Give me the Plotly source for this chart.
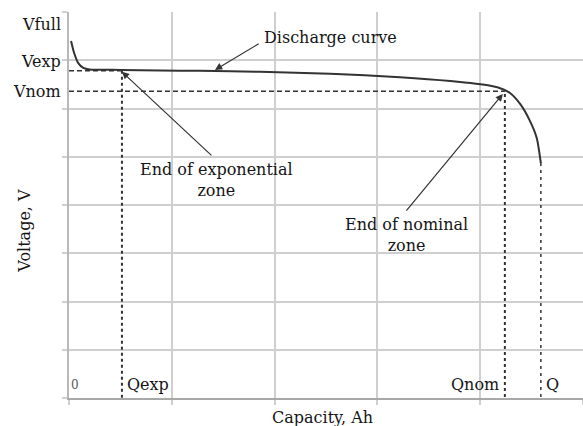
import plotly.graph_objects as go

# Discharge curve (capacity in grid units, voltage in grid units)
capacity = [0.02, 0.05, 0.09, 0.14, 0.20, 0.50, 0.89, 1.27, 1.86, 2.54, 3.22, 3.71, 4.10, 4.22, 4.29, 4.39, 4.48, 4.55, 4.59]
voltage = [7.40, 7.15, 6.94, 6.84, 6.81, 6.80, 6.79, 6.78, 6.76, 6.72, 6.65, 6.57, 6.47, 6.40, 6.32, 6.09, 5.76, 5.39, 4.87]

# Key points
q_exp = 0.515
q_nom = 4.24
q_end = 4.59
v_full = 7.75
v_exp = 6.78
v_nom = 6.36
v_nom_knee = 6.30
v_end = 4.87

v_labels = ["Vfull", "Vexp", "Vnom"]
v_label_pos = [v_full, 6.98, v_nom]
q_labels = ["0", "Qexp", "Qnom", "Q"]

FONT = "DejaVu Serif"
DARK = "#333333"
TXT = "#151515"
GRID = "#cfcfcf"

fig = go.Figure()

# Reference lines
fig.add_trace(go.Scatter(x=[0, q_exp], y=[v_exp, v_exp], mode="lines",
                         line=dict(color=DARK, width=1.5, dash="5px,3px"), hoverinfo="skip"))
fig.add_trace(go.Scatter(x=[0, q_nom], y=[v_nom, v_nom], mode="lines",
                         line=dict(color=DARK, width=1.5, dash="5px,3px"), hoverinfo="skip"))
fig.add_trace(go.Scatter(x=[q_exp, q_exp], y=[v_exp, 0], mode="lines",
                         line=dict(color=DARK, width=2, dash="3px,3px"), hoverinfo="skip"))
fig.add_trace(go.Scatter(x=[q_nom, q_nom], y=[v_nom_knee, 0], mode="lines",
                         line=dict(color=DARK, width=2, dash="3px,3px"), hoverinfo="skip"))
fig.add_trace(go.Scatter(x=[q_end, q_end], y=[v_end, 0], mode="lines",
                         line=dict(color=DARK, width=1.5, dash="3px,4px"), hoverinfo="skip"))

# Discharge curve
fig.add_trace(go.Scatter(x=capacity, y=voltage, mode="lines",
                         line=dict(color=DARK, width=2, shape="spline", smoothing=0.6)))

annotations = []
# Voltage labels on the left
for lab, yv in zip(v_labels, v_label_pos):
    annotations.append(dict(x=0, xref="paper", y=yv, yref="y", text=lab, showarrow=False,
                            xanchor="right", yanchor="middle", xshift=-6,
                            font=dict(family=FONT, size=16, color=TXT)))
# Capacity labels at the bottom
annotations.append(dict(x=0.06, y=0.27, xref="x", yref="y", text=q_labels[0], showarrow=False,
                        font=dict(family=FONT, size=12, color="#555")))
annotations.append(dict(x=q_exp, y=0.27, xref="x", yref="y", text=q_labels[1], showarrow=False,
                        xanchor="left", xshift=3, font=dict(family=FONT, size=16, color=TXT)))
annotations.append(dict(x=q_nom, y=0.27, xref="x", yref="y", text=q_labels[2], showarrow=False,
                        xanchor="right", xshift=-4, font=dict(family=FONT, size=16, color=TXT)))
annotations.append(dict(x=q_end, y=0.27, xref="x", yref="y", text=q_labels[3], showarrow=False,
                        xanchor="left", xshift=3, font=dict(family=FONT, size=16, color=TXT)))

# Callouts with arrows
arrow_common = dict(showarrow=True, arrowhead=2, arrowsize=1.2, arrowwidth=1.2, arrowcolor=DARK,
                    axref="x", ayref="y", xref="x", yref="y")
annotations.append(dict(x=1.42, y=6.80, ax=1.86, ay=7.36, text="", **arrow_common))
annotations.append(dict(x=q_exp, y=6.76, ax=1.40, ay=5.00, text="", **arrow_common))
annotations.append(dict(x=4.22, y=6.30, ax=3.27, ay=3.85, text="", **arrow_common))

annotations.append(dict(x=2.54, y=7.48, xref="x", yref="y", text="Discharge curve", showarrow=False,
                        font=dict(family=FONT, size=16, color=TXT)))
annotations.append(dict(x=1.43, y=4.52, xref="x", yref="y", text="End of exponential<br>zone",
                        showarrow=False, font=dict(family=FONT, size=16, color=TXT)))
annotations.append(dict(x=3.28, y=3.38, xref="x", yref="y", text="End of nominal<br>zone",
                        showarrow=False, font=dict(family=FONT, size=16, color=TXT)))

# Axis titles
annotations.append(dict(x=0.494, y=-0.05, xref="paper", yref="paper", text="Capacity, Ah",
                        showarrow=False, yanchor="middle",
                        font=dict(family=FONT, size=16, color=TXT)))
annotations.append(dict(x=-0.086, y=0.433, xref="paper", yref="paper", text="Voltage, V",
                        showarrow=False, textangle=-90, xanchor="center", yanchor="middle",
                        font=dict(family=FONT, size=16, color=TXT)))

fig.update_layout(
    width=583, height=426,
    margin=dict(l=69, r=0, t=12, b=28),
    paper_bgcolor="white", plot_bgcolor="white",
    showlegend=False,
    annotations=annotations,
    xaxis=dict(range=[0, 5], tickvals=[0, 1, 2, 3, 4, 5], showticklabels=False,
               showgrid=True, gridcolor=GRID, gridwidth=1.5, zeroline=False,
               showline=True, linecolor="#a8a8a8", linewidth=1.5,
               ticks="outside", ticklen=5, tickcolor=GRID, tickwidth=1.5),
    yaxis=dict(range=[0, 8], tickvals=list(range(0, 9)), showticklabels=False,
               showgrid=True, gridcolor=GRID, gridwidth=1.5, zeroline=False,
               showline=True, linecolor="#b8b8b8", linewidth=1.5,
               ticks="outside", ticklen=5, tickcolor=GRID, tickwidth=1.5),
)

fig.write_html("out.html")
